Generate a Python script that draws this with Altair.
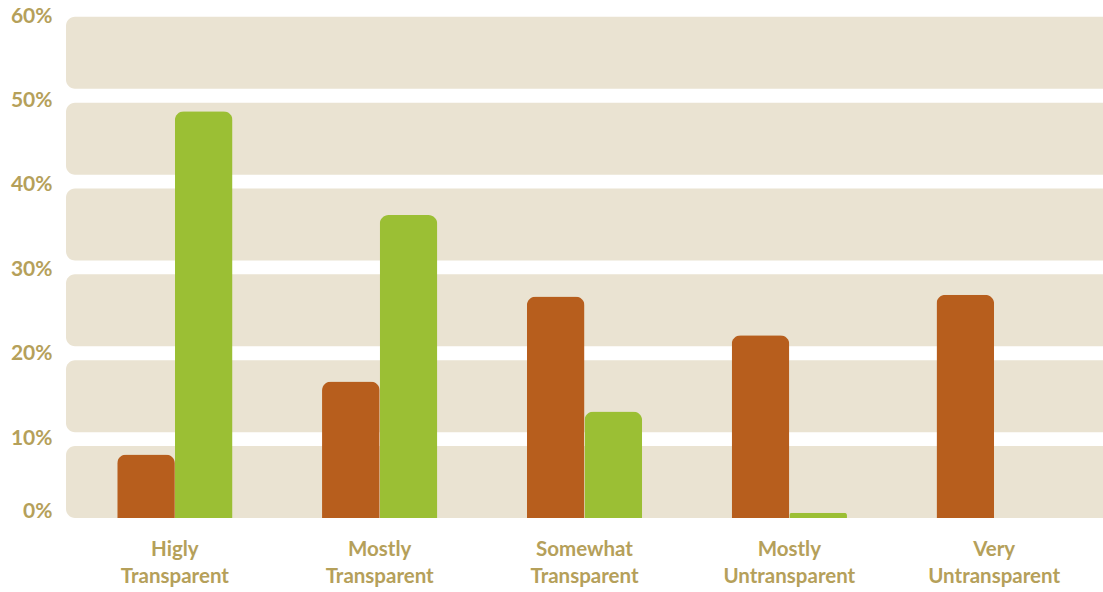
import altair as alt
import pandas as pd

categories = ["Higly Transparent", "Mostly Transparent", "Somewhat Transparent",
              "Mostly Untransparent", "Very Untransparent"]
series_names = ["A", "B"]
orange_values = [0.074, 0.159, 0.258, 0.213, 0.260]
green_values = [0.474, 0.353, 0.124, 0.006, None]
tick_values = [0, 0.1, 0.2, 0.3, 0.4, 0.5, 0.6]
band_starts = [0, 0.1, 0.2, 0.3, 0.4, 0.5]

rows = []
for c, o, g in zip(categories, orange_values, green_values):
    rows.append({"category": c, "series": "A", "value": o})
    if g is not None:
        rows.append({"category": c, "series": "B", "value": g})
bars_df = pd.DataFrame(rows)
bands_df = pd.DataFrame({"start": band_starts})

W, H = 1037, 515
TEXT = "#B5A05A"

yscale = alt.Scale(domain=[0, 0.6], nice=False, zero=True)
yaxis = alt.Axis(title=None, values=tick_values, format=".0%",
                 domain=False, ticks=False, grid=False,
                 labelFont="Lato", labelFontSize=21,
                 labelFontWeight="bold", labelColor=TEXT,
                 labelPadding=14,
                 labelOffset={"expr": "datum.value == 0 ? -7 : 4.6 + datum.value * 14"})

bands = alt.Chart(bands_df).transform_calculate(
    end="datum.start + 0.0839"
).mark_rect(
    color="#EAE3D2", cornerRadiusTopLeft=9, cornerRadiusBottomLeft=9
).encode(
    x=alt.value(0), x2=alt.value(W),
    y=alt.Y("start:Q", scale=yscale, axis=yaxis),
    y2="end:Q",
)

bars = alt.Chart(bars_df).mark_bar(
    cornerRadiusTopLeft=9, cornerRadiusTopRight=9
).encode(
    x=alt.X("category:N", sort=categories,
            scale=alt.Scale(paddingInner=0.437, paddingOuter=0.25),
            axis=alt.Axis(title=None, domain=False, ticks=False,
                          labelExpr="split(datum.label, ' ')",
                          labelAngle=0, labelFont="Lato", labelFontSize=20.5,
                          labelFontWeight="bold", labelColor=TEXT,
                          labelLineHeight=27, labelPadding=21)),
    xOffset=alt.XOffset("series:N", scale=alt.Scale(domain=series_names)),
    y=alt.Y("value:Q", scale=yscale, axis=yaxis),
    color=alt.Color("series:N", scale=alt.Scale(domain=series_names,
                                                range=["#B75E1D", "#9BBF34"]),
                    legend=None),
)

chart = alt.layer(bands, bars).properties(
    width=W, height=H,
    background="white",
    autosize=alt.AutoSizeParams(type="none"),
    padding={"left": 66, "top": 3, "right": 0, "bottom": 74},
).configure_view(stroke=None, strokeWidth=0)

chart.save("out.html", embed_options={"renderer": "svg", "actions": False})
